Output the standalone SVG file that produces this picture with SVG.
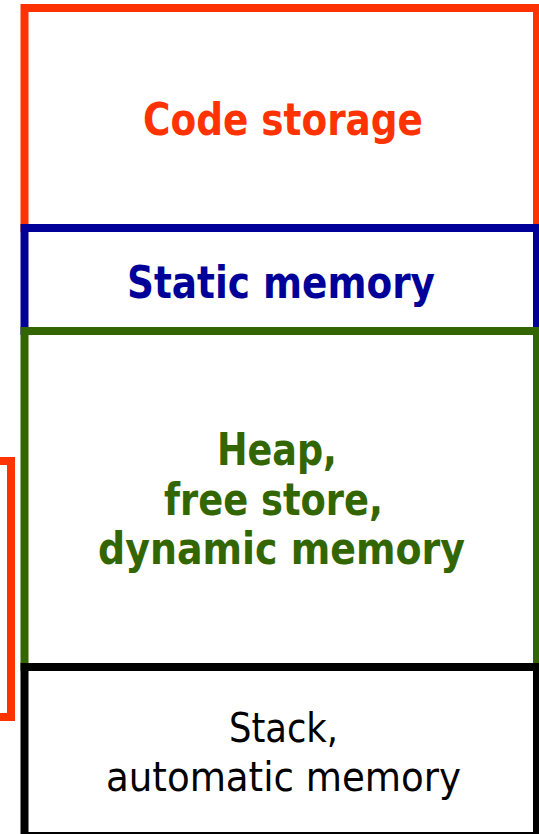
<svg xmlns="http://www.w3.org/2000/svg" width="539" height="834" viewBox="0 0 539 834">
  <style>
    .box { fill: #ffffff; stroke-width: 8; }
    .bold { font-family: "DejaVu Sans Condensed", "DejaVu Sans", sans-serif; font-weight: bold; font-size: 44px; }
    .reg { font-family: "DejaVu Sans Condensed", "DejaVu Sans", sans-serif; font-size: 40px; fill: #000000; }
  </style>
  <rect width="539" height="834" fill="#ffffff"/>
  <g id="code-storage">
    <rect class="box" x="24.5" y="8" width="512.5" height="220" stroke="#ff3300"/>
    <text class="bold" x="143" y="135" fill="#ff3300" textLength="280" lengthAdjust="spacingAndGlyphs">Code storage</text>
  </g>
  <g id="static-memory">
    <rect class="box" x="24.5" y="228" width="512.5" height="103" stroke="#000099"/>
    <text class="bold" x="127" y="298" fill="#000099" textLength="308" lengthAdjust="spacingAndGlyphs">Static memory</text>
  </g>
  <g id="heap">
    <rect class="box" x="24.5" y="331" width="512.5" height="336" stroke="#336600"/>
    <text class="bold" fill="#336600">
      <tspan x="217" y="465" textLength="120" lengthAdjust="spacingAndGlyphs">Heap,</tspan>
    </text>
    <text class="bold" x="164" y="515" fill="#336600" textLength="219" lengthAdjust="spacingAndGlyphs">free store,</text>
    <text class="bold" x="98" y="564" fill="#336600" textLength="367" lengthAdjust="spacingAndGlyphs">dynamic memory</text>
  </g>
  <g id="stack">
    <rect class="box" x="24.5" y="667" width="512.5" height="169" stroke="#000000"/>
    <text class="reg" x="229" y="742" textLength="109" lengthAdjust="spacingAndGlyphs">Stack,</text>
    <text class="reg" x="106" y="791" textLength="355" lengthAdjust="spacingAndGlyphs">automatic memory</text>
  </g>
  <g id="connectors">
    <path d="M0,461 H11 V717 H0" fill="none" stroke="#ff3300" stroke-width="8"/>
  </g>
</svg>
